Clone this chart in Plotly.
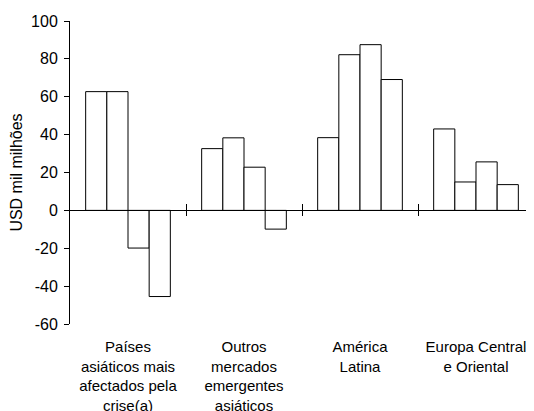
import plotly.graph_objects as go

categories = [
    "Países<br>asiáticos mais<br>afectados pela<br>crise(a)",
    "Outros<br>mercados<br>emergentes<br>asiáticos",
    "América<br>Latina",
    "Europa Central<br>e Oriental",
]
serie_1 = [62.7, 32.6, 38.4, 43.0]
serie_2 = [62.7, 38.3, 82.2, 15.0]
serie_3 = [-19.9, 22.8, 87.5, 25.6]
serie_4 = [-45.5, -9.9, 69.1, 13.6]
series_names = ["Série 1", "Série 2", "Série 3", "Série 4"]
y_ticks = [-60, -40, -20, 0, 20, 40, 60, 80, 100]
y_tick_text = [str(v) for v in y_ticks]

FONT = "Liberation Sans, Arial, sans-serif"

fig = go.Figure()
for name, vals in zip(series_names, [serie_1, serie_2, serie_3, serie_4]):
    fig.add_trace(go.Bar(
        x=categories, y=vals, name=name,
        marker=dict(color="white", line=dict(color="black", width=1)),
        showlegend=False,
    ))

# empty helper traces so the overlay axes (zero line with crossing ticks) get drawn
for ax in ["x2", "x3"]:
    fig.add_trace(go.Scatter(x=[], y=[], xaxis=ax, yaxis="y",
                             showlegend=False, hoverinfo="skip"))

pos0 = (0 - (-60)) / (100 - (-60))

# page body has an 8px default margin, so the figure is sized/offset to compensate
fig.update_layout(
    width=526, height=403,
    margin=dict(l=62, r=0, t=13, b=87),
    paper_bgcolor="white", plot_bgcolor="white",
    font=dict(family=FONT, size=16, color="black"),
    barmode="group", bargap=0.27, bargroupgap=0,
    xaxis=dict(
        type="category", showline=False, showgrid=False, zeroline=False,
        ticks="", tickfont=dict(size=15), ticklabelstandoff=12,
        automargin=False,
    ),
    xaxis2=dict(
        overlaying="x", anchor="free", position=pos0, type="linear",
        range=[-0.5, 3.5], tickvals=[0.5, 1.5, 2.5], ticks="outside",
        ticklen=5, tickcolor="black", showticklabels=False, showline=True,
        linecolor="black", linewidth=1, showgrid=False, zeroline=False,
        automargin=False,
    ),
    xaxis3=dict(
        overlaying="x", anchor="free", position=pos0, type="linear",
        range=[-0.5, 3.5], tickvals=[0.5, 1.5, 2.5], ticks="inside",
        ticklen=6, tickcolor="black", showticklabels=False, showline=False,
        showgrid=False, zeroline=False, automargin=False,
    ),
    yaxis=dict(
        range=[-60, 100], tickvals=y_ticks, ticktext=y_tick_text,
        ticks="outside", ticklen=5, ticklabelstandoff=3,
        tickcolor="black", showline=True, linecolor="black", linewidth=1,
        showgrid=False, zeroline=False, tickfont=dict(size=16),
        title=dict(text="USD mil milhões", font=dict(size=16), standoff=5),
        automargin=False,
    ),
)

fig.write_html("out.html")
